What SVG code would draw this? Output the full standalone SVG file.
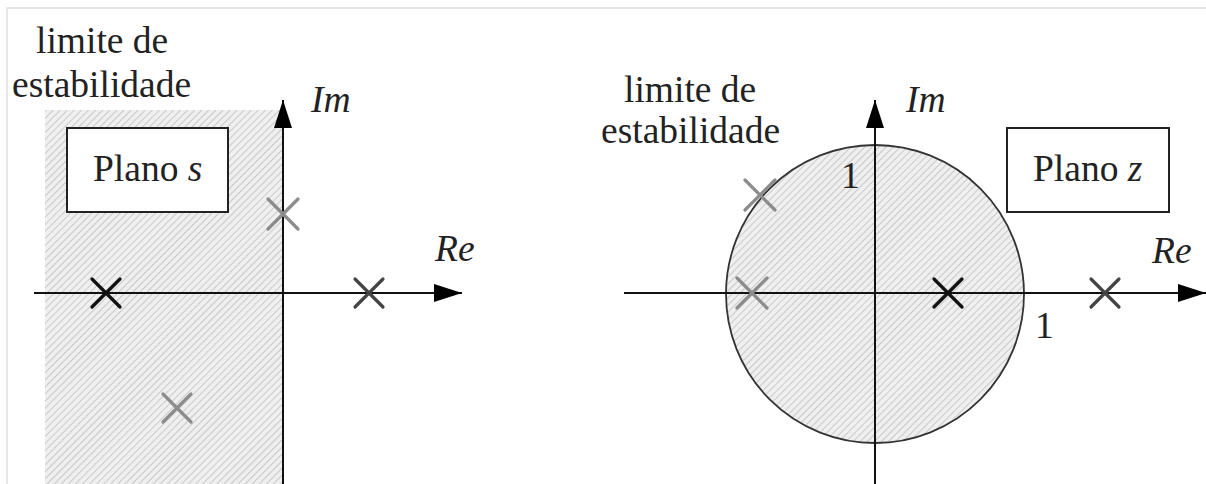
<svg xmlns="http://www.w3.org/2000/svg" width="1206" height="484" viewBox="0 0 1206 484">
<defs>
<pattern id="hatch" patternUnits="userSpaceOnUse" width="5" height="5" patternTransform="rotate(45)">
<rect width="5" height="5" fill="#efefef"/>
<line x1="0" y1="0" x2="0" y2="5" stroke="#bdbdbd" stroke-width="1.5"/>
</pattern>
<marker id="arr" viewBox="0 0 28 18" refX="28" refY="9" markerWidth="28" markerHeight="18" markerUnits="userSpaceOnUse" orient="auto">
<path d="M0,0 L28,9 L0,18 Z" fill="#000"/>
</marker>
<style>
.t{font-family:"Liberation Serif","Times New Roman",serif;font-size:37.5px;fill:#222}
.i{font-style:italic}
.ax{stroke:#111;stroke-width:2;fill:none}
.box{fill:#fff;stroke:#222;stroke-width:2}
.xk{stroke-width:3.2;stroke-linecap:round;fill:none}
.g{stroke:#8c8c8c}
.d{stroke:#444}
.b{stroke:#111}
</style>
</defs>
<rect x="0" y="0" width="1206" height="484" fill="#fff"/>
<path d="M7,484 V8 H1206" fill="none" stroke="#e0e0e0" stroke-width="1.5"/>

<g id="s-plane">
<rect id="s-region" x="45" y="110" width="238" height="374" fill="url(#hatch)"/>
<g id="s-axes">
<line class="ax" x1="283" y1="484" x2="283" y2="100" marker-end="url(#arr)"/>
<line class="ax" x1="34" y1="293" x2="462" y2="293" marker-end="url(#arr)"/>
</g>
<g id="s-label">
<text class="t" x="36" y="53">limite de</text>
<text class="t" x="12" y="97">estabilidade</text>
</g>
<g id="s-box">
<rect class="box" x="67" y="128" width="161" height="84"/>
<text class="t" x="93" y="181">Plano <tspan class="i">s</tspan></text>
</g>
<text class="t i" x="311" y="112">Im</text>
<text class="t i" x="435" y="261">Re</text>
<g id="s-poles">
<path class="xk g" d="M268,199 L298,229 M298,199 L268,229"/>
<path class="xk b" d="M92,279 L120,307 M120,279 L92,307"/>
<path class="xk d" d="M355,279 L383,307 M383,279 L355,307"/>
<path class="xk g" d="M163,394 L191,422 M191,394 L163,422"/>
</g>
</g>

<g id="z-plane">
<circle id="z-region" cx="875" cy="294" r="149" fill="url(#hatch)" stroke="#333" stroke-width="1.8"/>
<g id="z-axes">
<line class="ax" x1="875" y1="484" x2="875" y2="100" marker-end="url(#arr)"/>
<line class="ax" x1="624" y1="293" x2="1206" y2="293" marker-end="url(#arr)"/>
</g>
<g id="z-label">
<text class="t" x="624" y="102">limite de</text>
<text class="t" x="601" y="143">estabilidade</text>
</g>
<g id="z-box">
<rect class="box" x="1007" y="128" width="162" height="84"/>
<text class="t" x="1033" y="181">Plano <tspan class="i">z</tspan></text>
</g>
<text class="t i" x="906" y="112">Im</text>
<text class="t i" x="1152" y="263">Re</text>
<text class="t" x="841" y="188">1</text>
<text class="t" x="1035" y="338">1</text>
<g id="z-poles">
<path class="xk g" d="M745,180 L775,210 M775,180 L745,210"/>
<path class="xk g" d="M737,278 L767,308 M767,278 L737,308"/>
<path class="xk b" d="M934,279 L962,307 M962,279 L934,307"/>
<path class="xk d" d="M1091,279 L1119,307 M1119,279 L1091,307"/>
</g>
</g>
</svg>
